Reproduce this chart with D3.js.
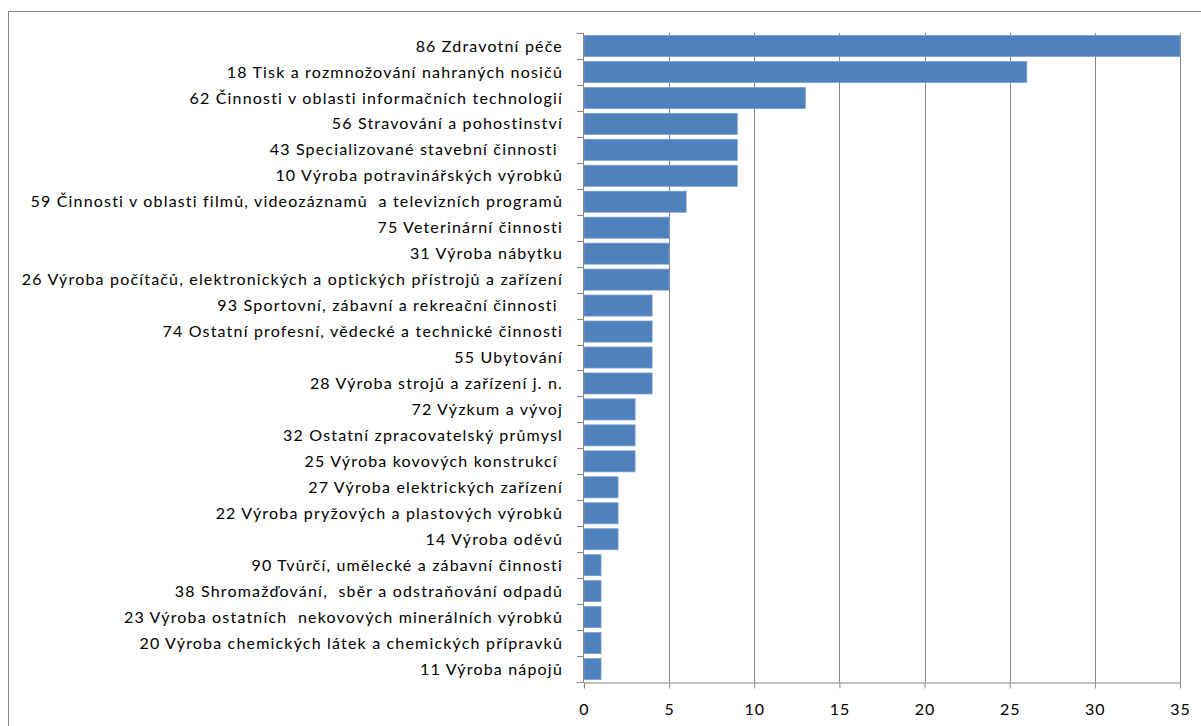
<!DOCTYPE html>
<html>
<head>
<meta charset="utf-8">
<script src="https://cdn.jsdelivr.net/npm/d3@7"></script>
<style>
  body { margin: 0; background: #fff; }
  svg text { font-family: Lato, "Liberation Sans", sans-serif; white-space: pre; }
</style>
</head>
<body>
<div id="chart"></div>
<script>
var categories = [
  "86 Zdravotní péče",
  "18 Tisk a rozmnožování nahraných nosičů",
  "62 Činnosti v oblasti informačních technologií",
  "56 Stravování a pohostinství",
  "43 Specializované stavební činnosti ",
  "10 Výroba potravinářských výrobků",
  "59 Činnosti v oblasti filmů, videozáznamů  a televizních programů",
  "75 Veterinární činnosti",
  "31 Výroba nábytku",
  "26 Výroba počítačů, elektronických a optických přístrojů a zařízení",
  "93 Sportovní, zábavní a rekreační činnosti ",
  "74 Ostatní profesní, vědecké a technické činnosti",
  "55 Ubytování",
  "28 Výroba strojů a zařízení j. n.",
  "72 Výzkum a vývoj",
  "32 Ostatní zpracovatelský průmysl",
  "25 Výroba kovových konstrukcí ",
  "27 Výroba elektrických zařízení",
  "22 Výroba pryžových a plastových výrobků",
  "14 Výroba oděvů",
  "90 Tvůrčí, umělecké a zábavní činnosti",
  "38 Shromažďování,  sběr a odstraňování odpadů",
  "23 Výroba ostatních  nekovových minerálních výrobků",
  "20 Výroba chemických látek a chemických přípravků",
  "11 Výroba nápojů"
];
var values = [35, 26, 13, 9, 9, 9, 6, 5, 5, 5, 4, 4, 4, 4, 3, 3, 3, 2, 2, 2, 1, 1, 1, 1, 1];
var xTicks = [0, 5, 10, 15, 20, 25, 30, 35];

var w = 1201, h = 726;
var plotL = 584, plotR = 1180, plotT = 33, plotB = 682;
var fontStack = "Lato, 'Liberation Sans', sans-serif";

var svg = d3.select("#chart").append("svg")
  .attr("width", w).attr("height", h);

// outer chart border
svg.append("rect")
  .attr("x", 8.5).attr("y", 11.5)
  .attr("width", 1200).attr("height", 730)
  .attr("fill", "none").attr("stroke", "#868686").attr("stroke-width", 1);

var x = d3.scaleLinear().domain([0, 35]).range([plotL, plotR]);
var y = d3.scaleBand().domain(categories).range([plotT, plotB]).paddingInner(0.19).paddingOuter(0.095);
var yb = d3.scaleBand().domain(categories).range([plotT, plotB]);

// gridlines
svg.append("g").selectAll("line").data(xTicks.slice(1)).enter().append("line")
  .attr("x1", d => Math.round(x(d)) + 0.5).attr("x2", d => Math.round(x(d)) + 0.5)
  .attr("y1", plotT).attr("y2", plotB)
  .attr("stroke", "#868686").attr("stroke-width", 1);

// bars
svg.append("g").selectAll("rect").data(values).enter().append("rect")
  .attr("x", x(0))
  .attr("y", (d, i) => y(categories[i]))
  .attr("width", d => x(d) - x(0))
  .attr("height", y.bandwidth())
  .attr("fill", "#4F81BD")
  .attr("stroke", "#7A9ECF").attr("stroke-width", 0.8);

// x axis
var xAxis = svg.append("g")
  .attr("transform", "translate(0," + (plotB + 0.5) + ")")
  .call(d3.axisBottom(x).tickValues(xTicks).tickSize(6).tickSizeOuter(0).tickPadding(15));
xAxis.select(".domain").attr("stroke", "#868686");
xAxis.selectAll(".tick line").attr("stroke", "#868686");
xAxis.selectAll("text").attr("font-size", 16).attr("fill", "#000")
  .style("font-family", fontStack).style("letter-spacing", "1px");

// y axis: line, boundary ticks and labels
svg.append("line")
  .attr("x1", plotL - 0.5).attr("x2", plotL - 0.5)
  .attr("y1", plotT).attr("y2", plotB)
  .attr("stroke", "#868686");
svg.append("g").selectAll("line").data(d3.range(categories.length + 1)).enter().append("line")
  .attr("x1", plotL - 7).attr("x2", plotL)
  .attr("y1", i => Math.round(plotT + i * yb.step()) + 0.5)
  .attr("y2", i => Math.round(plotT + i * yb.step()) + 0.5)
  .attr("stroke", "#868686");

svg.append("g").selectAll("text").data(categories).enter().append("text")
  .attr("x", 563)
  .attr("y", d => yb(d) + yb.bandwidth() / 2)
  .attr("dy", "0.35em")
  .attr("text-anchor", "end")
  .attr("font-size", 16)
  .style("letter-spacing", "1.18px")
  .attr("fill", "#000")
  .text(d => d);
</script>
</body>
</html>
